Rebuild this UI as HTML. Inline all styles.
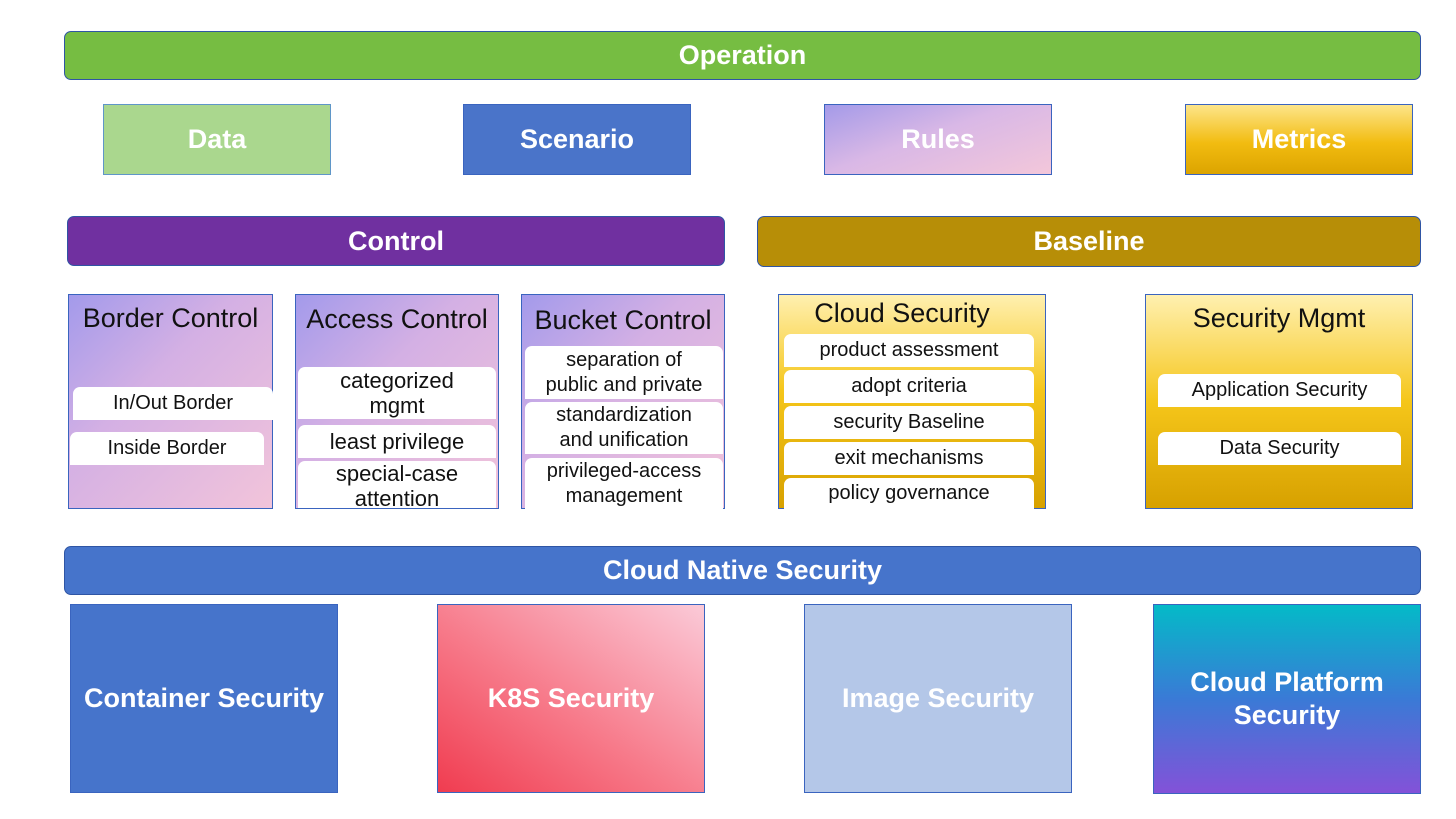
<!DOCTYPE html>
<html><head><meta charset="utf-8"><style>
body{margin:0;width:1456px;height:819px;background:#fff;position:relative;overflow:hidden;font-family:"Liberation Sans",sans-serif}
div{position:absolute;box-sizing:border-box}
.bar{border:1.5px solid #2f55a4;border-radius:7px;color:#fff;font-weight:bold;font-size:27px;display:flex;align-items:center;justify-content:center}
.box{border:1.5px solid #3a64bf;color:#fff;font-weight:bold;font-size:27px;display:flex;align-items:center;justify-content:center;text-align:center;line-height:33px}
.col{border:1.5px solid #3a64bf}
.t{left:0;right:0;text-align:center;font-size:27px;color:#111;white-space:nowrap}
.w{background:#fff;border-radius:7px 7px 0 0;color:#111;font-size:20px;text-align:center;display:flex;align-items:center;justify-content:center;line-height:25px;white-space:nowrap}
.pg{background:linear-gradient(135deg,#a39aeb 0%,#d4b0e4 40%,#f2c4da 100%)}
.yg{background:linear-gradient(180deg,#fff0b0 0%,#f5c61a 45%,#d7a100 100%)}
</style></head><body>
<div class="bar" style="left:64px;top:31px;width:1357px;height:49px;background:#76bd42">Operation</div>
<div class="box" style="left:103px;top:104px;width:228px;height:71px;background:#aad78e;border-color:#5f96c8">Data</div>
<div class="box" style="left:463px;top:104px;width:228px;height:71px;background:#4a74c9">Scenario</div>
<div class="box pg" style="left:824px;top:104px;width:228px;height:71px;background:linear-gradient(160deg,#a49ae8 0%,#d9b8e6 45%,#f3c7da 100%)">Rules</div>
<div class="box" style="left:1185px;top:104px;width:228px;height:71px;background:linear-gradient(180deg,#fde58a 0%,#f2bc10 55%,#dca400 100%)">Metrics</div>

<div class="bar" style="left:67px;top:216px;width:658px;height:50px;background:#7030a0">Control</div>
<div class="bar" style="left:757px;top:216px;width:664px;height:51px;background:#b78e07">Baseline</div>

<div class="col pg" style="left:68px;top:294px;width:205px;height:215px">
<div class="t" style="top:8px">Border Control</div>
<div class="w" style="left:4px;top:92px;width:200px;height:33px">In/Out Border</div>
<div class="w" style="left:1px;top:137px;width:194px;height:33px">Inside Border</div>
</div>
<div class="col pg" style="left:295px;top:294px;width:204px;height:215px">
<div class="t" style="top:9px">Access Control</div>
<div class="w" style="left:2px;top:72px;width:198px;height:52px;font-size:22px">categorized<br>mgmt</div>
<div class="w" style="left:2px;top:130px;width:198px;height:33px;font-size:22px">least privilege</div>
<div class="w" style="left:2px;top:166px;width:198px;height:47px;font-size:22px;align-items:flex-start;padding-top:0">special-case<br>attention</div>
</div>
<div class="col pg" style="left:521px;top:294px;width:204px;height:215px">
<div class="t" style="top:10px">Bucket Control</div>
<div class="w" style="left:3px;top:51px;width:198px;height:53px">separation of<br>public and private</div>
<div class="w" style="left:3px;top:107px;width:198px;height:52px">standardization<br>and unification</div>
<div class="w" style="left:3px;top:163px;width:198px;height:51px">privileged-access<br>management</div>
</div>
<div class="col yg" style="left:778px;top:294px;width:268px;height:215px">
<div class="t" style="top:3px;right:20px">Cloud Security</div>
<div class="w" style="left:5px;top:39px;width:250px;height:33px">product assessment</div>
<div class="w" style="left:5px;top:75px;width:250px;height:33px">adopt criteria</div>
<div class="w" style="left:5px;top:111px;width:250px;height:33px">security Baseline</div>
<div class="w" style="left:5px;top:147px;width:250px;height:33px">exit mechanisms</div>
<div class="w" style="left:5px;top:183px;width:250px;height:31px">policy governance</div>
</div>
<div class="col yg" style="left:1145px;top:294px;width:268px;height:215px;background:linear-gradient(180deg,#fff0b0 0%,#f5c61a 50%,#d7a100 100%)">
<div class="t" style="top:8px">Security Mgmt</div>
<div class="w" style="left:12px;top:79px;width:243px;height:33px">Application Security</div>
<div class="w" style="left:12px;top:137px;width:243px;height:33px">Data Security</div>
</div>

<div class="bar" style="left:64px;top:546px;width:1357px;height:49px;background:#4674cb">Cloud Native Security</div>
<div class="box" style="left:70px;top:604px;width:268px;height:189px;background:#4674cb">Container Security</div>
<div class="box" style="left:437px;top:604px;width:268px;height:189px;background:linear-gradient(35deg,#f03c50 0%,#f77a8a 45%,#fbcad8 100%)">K8S Security</div>
<div class="box" style="left:804px;top:604px;width:268px;height:189px;background:#b4c7e8">Image Security</div>
<div class="box" style="left:1153px;top:604px;width:268px;height:190px;background:linear-gradient(180deg,#04bac8 0%,#3a7ad6 50%,#8352d8 100%)">Cloud Platform<br>Security</div>
</body></html>
